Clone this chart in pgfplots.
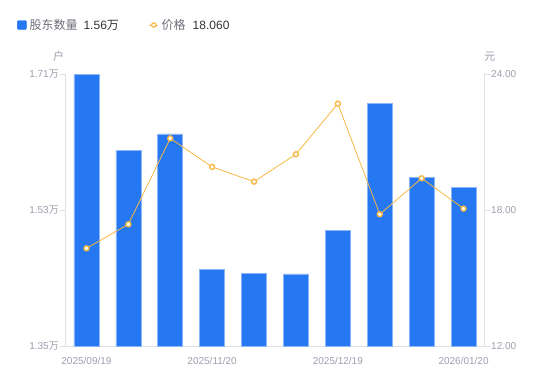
\documentclass[border=0pt]{standalone}
\usepackage{pgfplots}
\pgfplotsset{compat=1.18}
\usepackage{fontspec}
\setmainfont{Liberation Sans}
\newfontfamily\cjk{Noto Sans CJK SC}
\definecolor{barblue}{HTML}{2677F2}
\definecolor{baredge}{HTML}{8DB6F7}
\definecolor{lineorange}{HTML}{F7B844}
\definecolor{ticklab}{HTML}{9E9EAE}
\definecolor{axisgray}{HTML}{E0E0E6}
\definecolor{legtext}{HTML}{6E6E7A}
\definecolor{legval}{HTML}{333333}

\pgfplotstableread{
x  holders price
0  1.7090 16.31
1  1.6085 17.37
2  1.6306 21.16
3  1.4515 19.90
4  1.4457 19.25
5  1.4453 20.46
6  1.5031 22.69
7  1.6716 17.81
8  1.5733 19.40
9  1.5600 18.06
}\datatable

\begin{document}
\begin{tikzpicture}
\useasboundingbox (-65.5pt,-35pt) rectangle (484.5pt,346pt);
\begin{axis}[
  scale only axis, width=419pt, height=272pt,
  xmin=-0.5, xmax=9.5, ymin=1.35, ymax=1.71,
  axis y line*=left, axis x line*=bottom,
  axis line style={draw=axisgray, line width=0.8pt},
  xtick={0,3,6,9},
  xticklabels={2025/09/19,2025/11/20,2025/12/19,2026/01/20},
  x tick style={draw=none},
  xticklabel style={font=\fontsize{10}{12}\selectfont, text=ticklab, yshift=-3pt},
  ytick={1.35,1.53,1.71},
  yticklabels={1.35{\cjk 万},1.53{\cjk 万},1.71{\cjk 万}},
  y tick style={draw=axisgray, line width=0.8pt},
  tick align=outside, major tick length=5pt,
  yticklabel style={font=\fontsize{10}{12}\selectfont, text=ticklab, inner xsep=1.5pt},
  ylabel={\cjk 户},
  every axis y label/.style={at={(axis description cs:-0.0162,1.0636)}, anchor=center, font=\fontsize{11}{13}\selectfont, text=ticklab},
]
\addplot[ybar, bar width=25pt, fill=barblue, draw=baredge, line width=0.6pt] table[x=x, y=holders] {\datatable};
\end{axis}
\begin{axis}[
  scale only axis, width=419pt, height=272pt,
  xmin=-0.5, xmax=9.5, ymin=12, ymax=24,
  axis y line*=right, axis x line=none,
  axis line style={draw=axisgray, line width=0.8pt},
  ytick={12,18,24},
  yticklabels={12.00,18.00,24.00},
  y tick style={draw=axisgray, line width=0.8pt},
  tick align=outside, major tick length=5pt,
  yticklabel style={font=\fontsize{10}{12}\selectfont, text=ticklab, inner xsep=1.5pt},
  ylabel={\cjk 元},
  every axis y label/.style={at={(axis description cs:1.0131,1.0625)}, anchor=center, font=\fontsize{11}{13}\selectfont, text=ticklab},
  legend style={at={(axis description cs:-0.1158,1.180)}, anchor=west, draw=none, fill=none,
    font=\fontsize{12}{14}\selectfont, inner xsep=0pt, inner ysep=0pt,
    nodes={inner xsep=3pt, inner ysep=1pt},
    /tikz/every even column/.append style={column sep=27pt}},
  legend columns=2,
  legend cell align=left,
]
\addlegendimage{legend image code/.code={\fill[barblue, rounded corners=1pt] (0pt,-4.5pt) rectangle (9pt,4.5pt);}}
\addlegendentry{{\color{legtext}\cjk 股东数量}\hspace{6pt}{\color{legval}1.56{\cjk 万}}}
\addplot[lineorange, line width=0.8pt, mark=*, mark size=2.5pt,
  mark options={fill=white, draw=lineorange, line width=1.4pt},
  legend image code/.code={\draw[lineorange, line width=0.8pt] (0pt,0pt) -- (9pt,0pt); \draw[lineorange, fill=white, line width=1.2pt] (4.5pt,0pt) circle (2.2pt);}]
  table[x=x, y=price] {\datatable};
\addlegendentry{{\color{legtext}\cjk 价格}\hspace{7pt}{\color{legval}18.060}}
\end{axis}
\end{tikzpicture}
\end{document}
